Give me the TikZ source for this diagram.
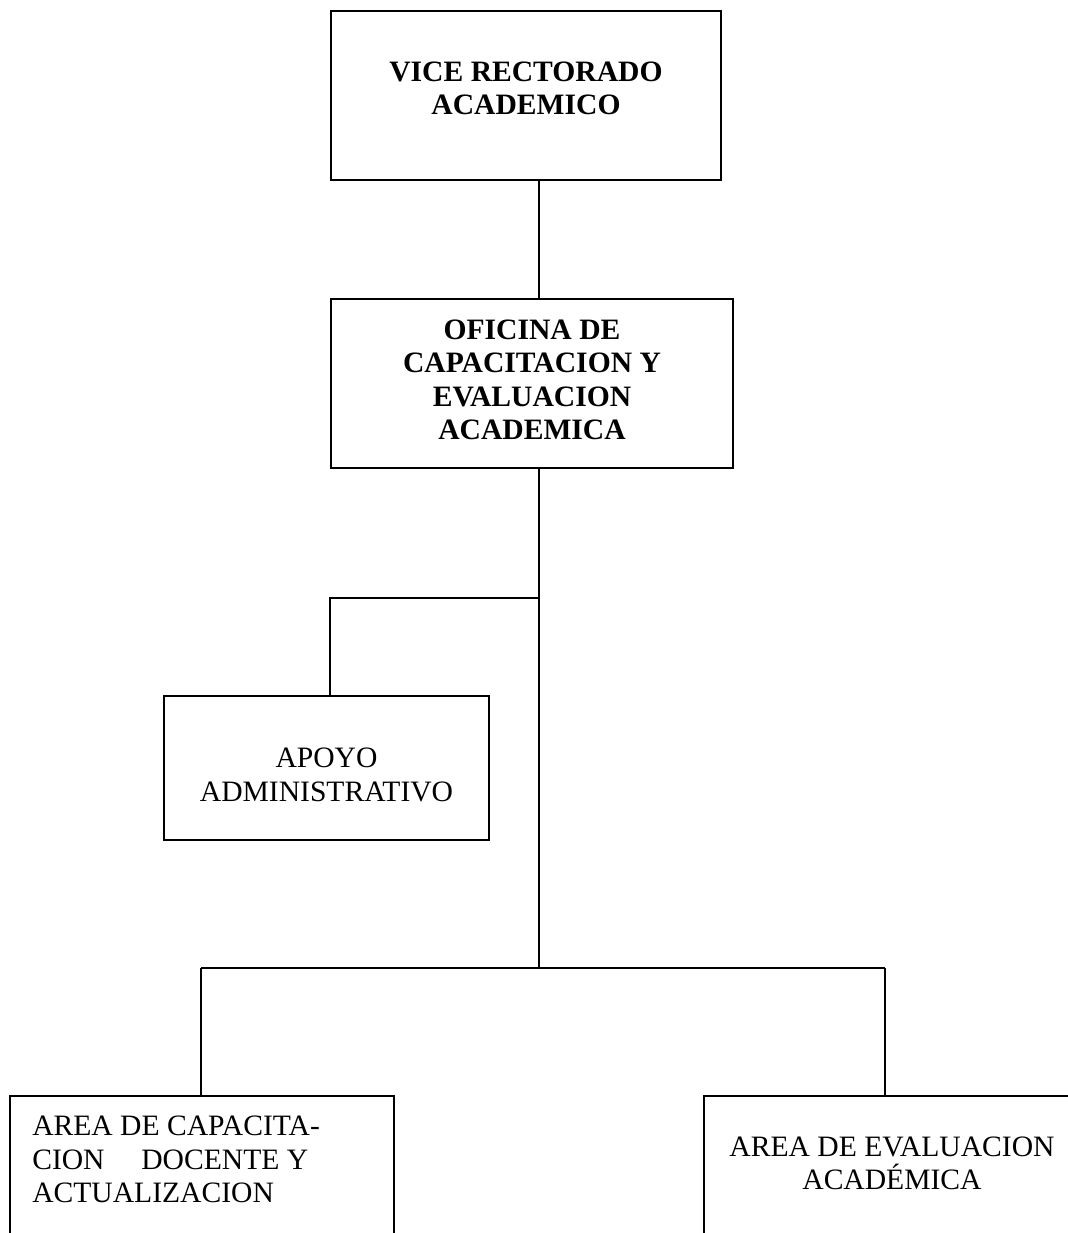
\documentclass[tikz,border=0pt]{standalone}
\usepackage{fontspec}
\setmainfont{Liberation Serif}
\usetikzlibrary{fit}
\tikzset{
  orgbox/.style={draw=black, line width=1.2pt, inner sep=0pt, rectangle},
  lbl/.style={inner sep=0pt, font=\fontsize{22.2}{25.1}\selectfont, text=black},
  lblb/.style={inner sep=0pt, font=\fontsize{22.2}{25.1}\selectfont\bfseries, text=black},
  conn/.style={draw=black, line width=1.2pt}
}
\begin{document}
\begin{tikzpicture}[x=0.75pt, y=-0.75pt]
\useasboundingbox (0,0) rectangle (1068,1233);
\clip (0,0) rectangle (1068,1233);
\fill[white] (0,0) rectangle (1068,1233);
% boxes
\node[orgbox, fit={(331,11) (721,180)}] (v) {};
\node[orgbox, fit={(331,299) (733,468)}] (o) {};
\node[orgbox, fit={(164,696) (489,840)}] (a) {};
\node[orgbox, fit={(10,1096) (394,1260)}] (c) {};
\node[orgbox, fit={(704,1096) (1090,1260)}] (e) {};
% texts
\node[lblb, align=center] (vt) at (526,88.5) {VICE RECTORADO\\ACADEMICO};
\node[lblb, align=center] (ot) at (532,380) {OFICINA DE\\CAPACITACION Y\\EVALUACION\\ACADEMICA};
\node[lbl, align=center] (at) at (326.5,775) {APOYO\\ADMINISTRATIVO};
\node[lbl, align=left, anchor=west] (ct) at (32,1159.5) {AREA DE CAPACITA-\\CION\hspace{22pt} DOCENTE Y\\ACTUALIZACION};
\node[lbl, align=center] (et) at (892,1163.5) {AREA DE EVALUACION\\ACADÉMICA};
% junction coordinates
\coordinate (trunk) at (539,0);
\coordinate (j1) at (539,598);
\coordinate (j2) at (539,968);
\coordinate (jl) at (201,968);
\coordinate (jr) at (885,968);
% connectors
\draw[conn] (v.south -| trunk) -- (o.north -| trunk);
\draw[conn] (o.south -| trunk) -- (j2);
\draw[conn] (j1) -- (j1 -| o.west) -- (a.north -| o.west);
\draw[conn] (jl) -- (jr);
\draw[conn] (jl) -- (c.north -| jl);
\draw[conn] (jr) -- (e.north -| jr);
\end{tikzpicture}
\end{document}
